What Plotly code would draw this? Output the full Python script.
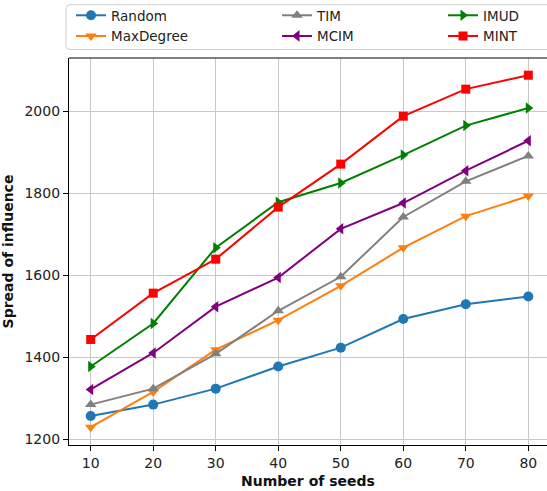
import plotly.graph_objects as go

seeds = [10, 20, 30, 40, 50, 60, 70, 80]
random_vals = [1256, 1284, 1323, 1377, 1423, 1493, 1529, 1548]
maxdegree_vals = [1229, 1315, 1418, 1490, 1574, 1667, 1744, 1793]
tim_vals = [1284, 1323, 1408, 1513, 1596, 1742, 1829, 1891]
mcim_vals = [1321, 1410, 1523, 1594, 1713, 1776, 1855, 1928]
imud_vals = [1377, 1482, 1667, 1778, 1825, 1893, 1965, 2008]
mint_vals = [1443, 1556, 1639, 1766, 1871, 1988, 2054, 2088]

y_ticks = [1200, 1400, 1600, 1800, 2000]
x_ticks = seeds

series = [
    ("Random", random_vals, "#1f77b4", "circle"),
    ("MaxDegree", maxdegree_vals, "#ff7f0e", "triangle-down"),
    ("TIM", tim_vals, "#808080", "triangle-up"),
    ("MCIM", mcim_vals, "#800080", "triangle-left"),
    ("IMUD", imud_vals, "#008000", "triangle-right"),
    ("MINT", mint_vals, "#ff0000", "square"),
]

W, H = 547, 491
L, T, B = 69, 56, 46
PW, PH = W - L, H - T - B

def px2paper_x(px):
    return (px - L) / PW

def px2paper_y(py):
    return (H - B - py) / PH

# legend positions (pixel): column text-left x, row center y
leg_cols = [71, 277, 443]
leg_rows = [13, 34]
leg_pos = {
    "Random": (0, 0), "MaxDegree": (0, 1),
    "TIM": (1, 0), "MCIM": (1, 1),
    "IMUD": (2, 0), "MINT": (2, 1),
}

fig = go.Figure()
layout_legends = {}
for i, (name, vals, color, sym) in enumerate(series):
    lname = "legend" if i == 0 else f"legend{i+1}"
    fig.add_trace(go.Scatter(
        x=seeds, y=vals, name=name, mode="lines+markers",
        line=dict(color=color, width=2),
        marker=dict(symbol=sym, size=10 if sym != "square" else 9, color=color),
        legend=lname,
    ))
    c, r = leg_pos[name]
    layout_legends[lname] = dict(
        x=px2paper_x(leg_cols[c]), y=px2paper_y(leg_rows[r]),
        xanchor="left", yanchor="middle",
        bgcolor="rgba(0,0,0,0)", borderwidth=0,
        font=dict(family="DejaVu Sans", size=13.5, color="#222"),
    )

fig.update_layout(**layout_legends)

# legend frame (rounded rectangle)
x0, x1 = px2paper_x(66), px2paper_x(560)
y0, y1 = px2paper_y(47.5), px2paper_y(2.5)
rx, ry = 4 / PW, 4 / PH
path = (f"M {x0+rx},{y1} L {x1-rx},{y1} Q {x1},{y1} {x1},{y1-ry} "
        f"L {x1},{y0+ry} Q {x1},{y0} {x1-rx},{y0} L {x0+rx},{y0} "
        f"Q {x0},{y0} {x0},{y0+ry} L {x0},{y1-ry} Q {x0},{y1} {x0+rx},{y1} Z")
fig.add_shape(type="path", path=path, xref="paper", yref="paper",
              line=dict(color="#d0d0d0", width=1), fillcolor="rgba(255,255,255,0.8)",
              layer="above")

# top spine
fig.add_shape(type="line", xref="paper", yref="paper", x0=0, x1=1.05, y0=1, y1=1,
              line=dict(color="black", width=1.2), layer="above")

fig.update_layout(
    width=W, height=H,
    margin=dict(l=L, r=0, t=T, b=B, pad=0),
    plot_bgcolor="white", paper_bgcolor="white",
    showlegend=True,
    font=dict(family="DejaVu Sans", size=14, color="#222"),
)
fig.update_xaxes(
    range=[6.53, 82.99], tickvals=x_ticks, ticktext=[str(v) for v in x_ticks],
    showgrid=True, gridcolor="#c8c8c8", gridwidth=1.2,
    showline=True, linecolor="black", linewidth=1.2, mirror=False,
    ticks="outside", ticklen=5, tickcolor="black", zeroline=False,
    tickfont=dict(size=14, family="DejaVu Sans", color="#222"),
    title=dict(text="<b>Number of seeds</b>", font=dict(size=14, family="DejaVu Sans", color="#111"), standoff=6),
)
fig.update_yaxes(
    range=[1185.4, 2130], tickvals=y_ticks, ticktext=[str(v) for v in y_ticks],
    showgrid=True, gridcolor="#c8c8c8", gridwidth=1.2,
    showline=True, linecolor="black", linewidth=1.2, mirror=False,
    ticks="outside", ticklen=5, tickcolor="black", zeroline=False,
    tickfont=dict(size=14, family="DejaVu Sans", color="#222"),
    title=dict(text="<b>Spread of influence</b>", font=dict(size=14, family="DejaVu Sans", color="#111"), standoff=8),
)

fig.write_html("out.html")
